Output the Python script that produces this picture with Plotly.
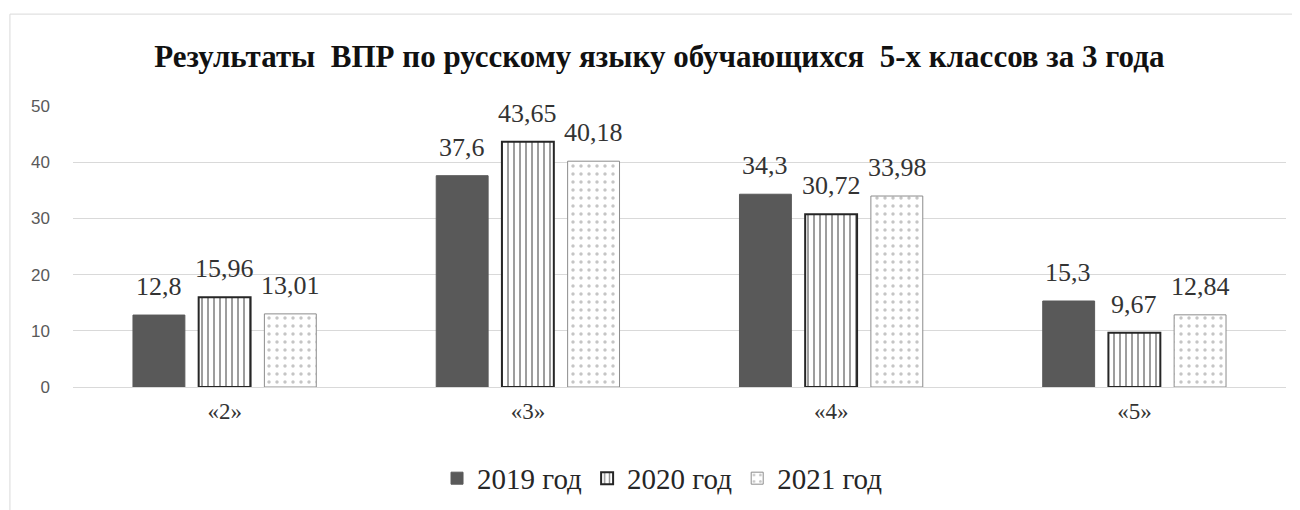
import plotly.graph_objects as go

categories = ["«2»", "«3»", "«4»", "«5»"]
series_names = ["2019 год", "2020 год", "2021 год"]
v2019 = [12.8, 37.6, 34.3, 15.3]
v2020 = [15.96, 43.65, 30.72, 9.67]
v2021 = [13.01, 40.18, 33.98, 12.84]
y_ticks = [0, 10, 20, 30, 40, 50]

def fmt(v):
    s = ("%.2f" % v).rstrip("0").rstrip(".")
    return s.replace(".", ",")

serif = "Liberation Serif"
fig = go.Figure()
styles = [
    dict(marker=dict(color="#595959", line=dict(color="#595959", width=1))),
    dict(marker=dict(color="white", line=dict(color="#262626", width=2),
                     pattern=dict(shape="|", fgcolor="#262626", bgcolor="white", size=6, solidity=0.3))),
    dict(marker=dict(color="white", line=dict(color="#8c8c8c", width=1),
                     pattern=dict(shape=".", fgcolor="#8c8c8c", bgcolor="white", size=8, solidity=0.15))),
]
shifts = [-66, 0, 66]
for name, vals, st, sh in zip(series_names, [v2019, v2020, v2021], styles, shifts):
    fig.add_trace(go.Bar(x=categories, y=vals, name=name, **st))
    for c, v in zip(categories, vals):
        fig.add_annotation(x=c, y=v, text=fmt(v), showarrow=False, xshift=sh,
                           yanchor="bottom", yshift=12,
                           font=dict(family=serif, size=26, color="#333333"))

fig.update_layout(
    width=1300, height=510,
    margin=dict(l=65, r=22, t=98, b=131),
    paper_bgcolor="white", plot_bgcolor="white",
    barmode="group", bargap=0.35, bargroupgap=0.21,
    title=dict(text="<b>Результаты  ВПР по русскому языку обучающихся  5-х классов за 3 года</b>",
               x=0.501, xanchor="center", y=0.905, yanchor="middle",
               font=dict(family=serif, size=31, color="#111111")),
    legend=dict(orientation="h", x=0.486, xanchor="center", y=-0.325, yanchor="middle",
                font=dict(family=serif, size=29, color="#262626"), traceorder="normal",
                itemwidth=30),
    showlegend=True,
)
fig.update_yaxes(range=[0, 50], tickvals=y_ticks, showgrid=True, gridcolor="#d9d9d9",
                 zeroline=False, showline=False,
                 tickfont=dict(family="Liberation Sans, Arial", size=17, color="#595959"),
                 ticklabelstandoff=22)
fig.update_xaxes(showline=True, linecolor="#d9d9d9", linewidth=1,
                 tickfont=dict(family=serif, size=23, color="#333333"), ticklabelstandoff=3)
# chart frame
fig.add_shape(type="line", xref="paper", yref="paper", x0=-0.052, x1=1.03, y0=1.327, y1=1.327,
              line=dict(color="#d9d9d9", width=1))
fig.add_shape(type="line", xref="paper", yref="paper", x0=-0.052, x1=-0.052, y0=1.327, y1=-0.47,
              line=dict(color="#d9d9d9", width=1))
fig.write_html("out.html")
